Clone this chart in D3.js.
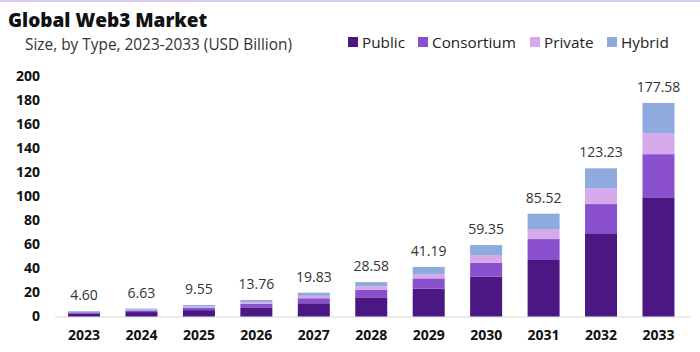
<!DOCTYPE html>
<html>
<head>
<meta charset="utf-8">
<script src="https://cdn.jsdelivr.net/npm/d3@7"></script>
<style>
html,body{margin:0;padding:0;background:#fff;}
svg{display:block;font-family:"Open Sans",sans-serif;}
</style>
</head>
<body>
<svg id="chart" width="700" height="352"></svg>
<script>
const years = ["2023","2024","2025","2026","2027","2028","2029","2030","2031","2032","2033"];
const totals = ["4.60","6.63","9.55","13.76","19.83","28.58","41.19","59.35","85.52","123.23","177.58"];
const publicVals      = [2.55, 3.7, 5.3, 7.6, 11.0, 15.9, 23.2, 33.1, 47.0, 69.2, 99.1];
const consortiumVals  = [0.97, 1.4, 2.0, 2.9, 4.2, 6.3, 8.5, 11.6, 17.4, 24.3, 35.9];
const privateVals     = [0.45, 0.65, 0.95, 1.4, 2.0, 2.9, 3.7, 6.4, 8.3, 12.9, 17.5];
const hybridVals      = [0.63, 0.88, 1.3, 1.86, 2.6, 3.5, 5.8, 8.25, 12.8, 16.8, 25.1];
const seriesNames = ["Public","Consortium","Private","Hybrid"];
const seriesColors = ["#4b1782","#8a4fcc","#d5a9ea","#8eaade"];
const yTicks = [0,20,40,60,80,100,120,140,160,180,200];

const svg = d3.select("#chart");

// top accent line
svg.append("rect").attr("x",0).attr("y",0).attr("width",700).attr("height",2).attr("fill","#dccaf0");

const rows = years.map((y,i)=>({year:y, Public:publicVals[i], Consortium:consortiumVals[i], Private:privateVals[i], Hybrid:hybridVals[i], total:totals[i]}));

const x = d3.scaleBand().domain(years).range([55.3, 687.2]).paddingInner(0.443).paddingOuter(0.2215);
const y = d3.scaleLinear().domain([0,200]).range([316.5, 76]);

// title
svg.append("text").attr("x",8).attr("y",27).attr("font-size",19).attr("font-weight",800).attr("fill","#111").text("Global Web3 Market");
svg.append("text").attr("x",25).attr("y",50).attr("font-size",15.4).attr("fill","#333").text("Size, by Type, 2023-2033 (USD Billion)");

// legend
const legendX = [348, 418, 530, 607];
const lg = svg.append("g");
seriesNames.forEach((n,i)=>{
  lg.append("rect").attr("x",legendX[i]).attr("y",37).attr("width",10).attr("height",10).attr("fill",seriesColors[i]);
  lg.append("text").attr("x",legendX[i]+14).attr("y",47.5).attr("font-size",15.3).attr("fill","#222").text(n);
});

// y axis labels
const yAxis = d3.axisLeft(y).tickValues(yTicks).tickSize(0).tickPadding(0);
const ya = svg.append("g").attr("transform","translate(40,0)").call(yAxis);
ya.select(".domain").remove();
ya.selectAll("text").attr("font-size",14).attr("font-weight",700).attr("fill","#111").attr("font-family","'Open Sans',sans-serif");

// baseline
svg.append("line").attr("x1",55).attr("x2",690).attr("y1",y(0)+0.5).attr("y2",y(0)+0.5).attr("stroke","#d8d8de").attr("stroke-width",1);

// bars
const stack = d3.stack().keys(seriesNames)(rows);
svg.append("g").selectAll("g").data(stack).join("g")
  .attr("fill",(d,i)=>seriesColors[i])
  .selectAll("rect").data(d=>d).join("rect")
  .attr("x",d=>x(d.data.year))
  .attr("width",x.bandwidth())
  .attr("y",d=>y(d[1]))
  .attr("height",d=>y(d[0])-y(d[1]));

// value labels
svg.append("g").selectAll("text").data(rows).join("text")
  .attr("x",d=>x(d.year)+x.bandwidth()/2)
  .attr("y",d=>y(+d.total)-11)
  .attr("text-anchor","middle").attr("font-size",14).attr("fill","#333")
  .text(d=>d.total);

// x axis labels
const xAxis = d3.axisBottom(x).tickSize(0).tickPadding(0);
const xa = svg.append("g").attr("transform","translate(0,330)").call(xAxis);
xa.select(".domain").remove();
xa.selectAll("text").attr("font-size",14).attr("font-weight",700).attr("fill","#111").attr("font-family","'Open Sans',sans-serif");
</script>
</body>
</html>
